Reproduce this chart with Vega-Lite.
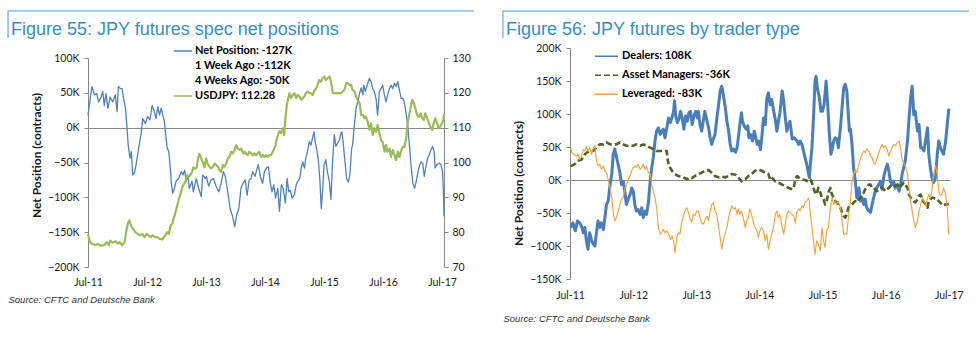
{
  "$schema": "https://vega.github.io/schema/vega-lite/v6.json",
  "autosize": {"type": "pad"},
  "padding": {"left": 7, "top": 10, "right": 5, "bottom": 5},
  "background": "white",
  "spacing": 27,
  "resolve": {"scale": {"color": "independent", "strokeDash": "independent"}, "legend": {"color": "independent", "strokeDash": "independent"}},
  "config": {
    "view": {"stroke": null},
    "font": "Lato",
    "axis": {"labelFont": "Lato", "labelFontSize": 10.5, "labelColor": "#1a1a1a", "titleFont": "Lato", "titleColor": "#1a1a1a", "domainColor": "#868686", "tickColor": "#868686", "grid": false, "labelOverlap": false},
    "title": {"font": "Liberation Sans", "fontSize": 18, "fontWeight": "normal", "color": "#3a8ec3", "anchor": "start", "frame": "group", "baseline": "alphabetic"},
    "line": {"strokeJoin": "round", "strokeCap": "butt"},
    "rule": {"color": "#4a9ad0", "strokeWidth": 1}
  },
  "datasets": {
    "jpy": [
      {"date":"2011-07-01","series":"Net Position","value":18},{"date":"2011-07-25","series":"Net Position","value":59},{"date":"2011-08-10","series":"Net Position","value":47},{"date":"2011-08-24","series":"Net Position","value":49},{"date":"2011-09-05","series":"Net Position","value":37},{"date":"2011-09-20","series":"Net Position","value":44},{"date":"2011-09-30","series":"Net Position","value":52},{"date":"2011-10-10","series":"Net Position","value":32},{"date":"2011-10-20","series":"Net Position","value":49},{"date":"2011-11-01","series":"Net Position","value":28},{"date":"2011-11-15","series":"Net Position","value":44},{"date":"2011-12-01","series":"Net Position","value":37},{"date":"2011-12-17","series":"Net Position","value":47},{"date":"2011-12-28","series":"Net Position","value":23},{"date":"2012-01-05","series":"Net Position","value":59},{"date":"2012-01-18","series":"Net Position","value":56},{"date":"2012-01-28","series":"Net Position","value":56},{"date":"2012-02-06","series":"Net Position","value":42},{"date":"2012-02-18","series":"Net Position","value":28},{"date":"2012-02-26","series":"Net Position","value":4},{"date":"2012-03-06","series":"Net Position","value":-25},{"date":"2012-03-17","series":"Net Position","value":-44},{"date":"2012-03-25","series":"Net Position","value":-34},{"date":"2012-04-03","series":"Net Position","value":-68},{"date":"2012-04-13","series":"Net Position","value":-65},{"date":"2012-04-23","series":"Net Position","value":-54},{"date":"2012-05-10","series":"Net Position","value":-29},{"date":"2012-05-24","series":"Net Position","value":-10},{"date":"2012-06-04","series":"Net Position","value":13},{"date":"2012-06-20","series":"Net Position","value":6},{"date":"2012-07-04","series":"Net Position","value":16},{"date":"2012-07-18","series":"Net Position","value":11},{"date":"2012-08-01","series":"Net Position","value":32},{"date":"2012-08-15","series":"Net Position","value":23},{"date":"2012-08-25","series":"Net Position","value":13},{"date":"2012-09-05","series":"Net Position","value":30},{"date":"2012-09-16","series":"Net Position","value":18},{"date":"2012-09-26","series":"Net Position","value":28},{"date":"2012-10-06","series":"Net Position","value":18},{"date":"2012-10-16","series":"Net Position","value":9},{"date":"2012-10-22","series":"Net Position","value":-6},{"date":"2012-11-02","series":"Net Position","value":-29},{"date":"2012-11-12","series":"Net Position","value":-34},{"date":"2012-11-20","series":"Net Position","value":-54},{"date":"2012-11-29","series":"Net Position","value":-82},{"date":"2012-12-07","series":"Net Position","value":-94},{"date":"2012-12-17","series":"Net Position","value":-87},{"date":"2012-12-27","series":"Net Position","value":-77},{"date":"2013-01-13","series":"Net Position","value":-73},{"date":"2013-01-28","series":"Net Position","value":-63},{"date":"2013-02-08","series":"Net Position","value":-68},{"date":"2013-02-18","series":"Net Position","value":-61},{"date":"2013-02-28","series":"Net Position","value":-77},{"date":"2013-03-09","series":"Net Position","value":-68},{"date":"2013-03-19","series":"Net Position","value":-87},{"date":"2013-04-05","series":"Net Position","value":-77},{"date":"2013-04-13","series":"Net Position","value":-92},{"date":"2013-05-01","series":"Net Position","value":-73},{"date":"2013-05-16","series":"Net Position","value":-87},{"date":"2013-06-01","series":"Net Position","value":-99},{"date":"2013-06-10","series":"Net Position","value":-68},{"date":"2013-06-27","series":"Net Position","value":-73},{"date":"2013-07-03","series":"Net Position","value":-70},{"date":"2013-07-17","series":"Net Position","value":-84},{"date":"2013-08-01","series":"Net Position","value":-75},{"date":"2013-08-16","series":"Net Position","value":-73},{"date":"2013-09-01","series":"Net Position","value":-84},{"date":"2013-09-18","series":"Net Position","value":-92},{"date":"2013-10-02","series":"Net Position","value":-80},{"date":"2013-10-16","series":"Net Position","value":-63},{"date":"2013-10-28","series":"Net Position","value":-70},{"date":"2013-11-12","series":"Net Position","value":-92},{"date":"2013-11-27","series":"Net Position","value":-116},{"date":"2013-12-13","series":"Net Position","value":-128},{"date":"2013-12-25","series":"Net Position","value":-142},{"date":"2014-01-07","series":"Net Position","value":-125},{"date":"2014-01-20","series":"Net Position","value":-116},{"date":"2014-02-02","series":"Net Position","value":-87},{"date":"2014-02-14","series":"Net Position","value":-80},{"date":"2014-02-28","series":"Net Position","value":-75},{"date":"2014-03-12","series":"Net Position","value":-97},{"date":"2014-03-25","series":"Net Position","value":-75},{"date":"2014-04-06","series":"Net Position","value":-73},{"date":"2014-04-15","series":"Net Position","value":-63},{"date":"2014-04-30","series":"Net Position","value":-70},{"date":"2014-05-10","series":"Net Position","value":-61},{"date":"2014-05-20","series":"Net Position","value":-53},{"date":"2014-06-02","series":"Net Position","value":-70},{"date":"2014-06-16","series":"Net Position","value":-80},{"date":"2014-06-27","series":"Net Position","value":-63},{"date":"2014-07-10","series":"Net Position","value":-58},{"date":"2014-07-22","series":"Net Position","value":-56},{"date":"2014-08-03","series":"Net Position","value":-80},{"date":"2014-08-13","series":"Net Position","value":-92},{"date":"2014-08-24","series":"Net Position","value":-82},{"date":"2014-09-04","series":"Net Position","value":-101},{"date":"2014-09-18","series":"Net Position","value":-87},{"date":"2014-09-28","series":"Net Position","value":-120},{"date":"2014-10-10","series":"Net Position","value":-82},{"date":"2014-10-21","series":"Net Position","value":-87},{"date":"2014-11-04","series":"Net Position","value":-108},{"date":"2014-11-15","series":"Net Position","value":-73},{"date":"2014-11-25","series":"Net Position","value":-92},{"date":"2014-12-05","series":"Net Position","value":-90},{"date":"2014-12-15","series":"Net Position","value":-101},{"date":"2014-12-30","series":"Net Position","value":-96},{"date":"2015-01-10","series":"Net Position","value":-82},{"date":"2015-01-20","series":"Net Position","value":-77},{"date":"2015-02-01","series":"Net Position","value":-73},{"date":"2015-02-10","series":"Net Position","value":-58},{"date":"2015-02-20","series":"Net Position","value":-49},{"date":"2015-03-02","series":"Net Position","value":-58},{"date":"2015-03-10","series":"Net Position","value":-44},{"date":"2015-03-21","series":"Net Position","value":-34},{"date":"2015-04-01","series":"Net Position","value":-20},{"date":"2015-04-11","series":"Net Position","value":-25},{"date":"2015-04-21","series":"Net Position","value":-15},{"date":"2015-04-30","series":"Net Position","value":-6},{"date":"2015-05-07","series":"Net Position","value":-20},{"date":"2015-05-18","series":"Net Position","value":-32},{"date":"2015-05-28","series":"Net Position","value":-49},{"date":"2015-06-06","series":"Net Position","value":-77},{"date":"2015-06-14","series":"Net Position","value":-116},{"date":"2015-06-22","series":"Net Position","value":-92},{"date":"2015-07-02","series":"Net Position","value":-53},{"date":"2015-07-12","series":"Net Position","value":-46},{"date":"2015-07-22","series":"Net Position","value":-63},{"date":"2015-08-03","series":"Net Position","value":-77},{"date":"2015-08-13","series":"Net Position","value":-103},{"date":"2015-08-23","series":"Net Position","value":-49},{"date":"2015-09-03","series":"Net Position","value":-10},{"date":"2015-09-13","series":"Net Position","value":-27},{"date":"2015-09-24","series":"Net Position","value":-22},{"date":"2015-10-04","series":"Net Position","value":-18},{"date":"2015-10-14","series":"Net Position","value":-8},{"date":"2015-10-20","series":"Net Position","value":-6},{"date":"2015-10-28","series":"Net Position","value":-22},{"date":"2015-11-08","series":"Net Position","value":-49},{"date":"2015-11-18","series":"Net Position","value":-73},{"date":"2015-11-28","series":"Net Position","value":-78},{"date":"2015-12-08","series":"Net Position","value":-68},{"date":"2015-12-19","series":"Net Position","value":-30},{"date":"2015-12-25","series":"Net Position","value":-25},{"date":"2016-01-05","series":"Net Position","value":4},{"date":"2016-01-16","series":"Net Position","value":28},{"date":"2016-01-26","series":"Net Position","value":37},{"date":"2016-02-06","series":"Net Position","value":49},{"date":"2016-02-16","series":"Net Position","value":57},{"date":"2016-02-27","series":"Net Position","value":47},{"date":"2016-03-03","series":"Net Position","value":61},{"date":"2016-03-13","series":"Net Position","value":52},{"date":"2016-03-28","series":"Net Position","value":64},{"date":"2016-04-07","series":"Net Position","value":71},{"date":"2016-04-17","series":"Net Position","value":66},{"date":"2016-04-28","series":"Net Position","value":56},{"date":"2016-05-07","series":"Net Position","value":52},{"date":"2016-05-18","series":"Net Position","value":42},{"date":"2016-05-28","series":"Net Position","value":18},{"date":"2016-06-08","series":"Net Position","value":52},{"date":"2016-06-18","series":"Net Position","value":56},{"date":"2016-06-28","series":"Net Position","value":61},{"date":"2016-07-09","series":"Net Position","value":47},{"date":"2016-07-19","series":"Net Position","value":37},{"date":"2016-07-29","series":"Net Position","value":47},{"date":"2016-08-09","series":"Net Position","value":56},{"date":"2016-08-19","series":"Net Position","value":61},{"date":"2016-08-30","series":"Net Position","value":56},{"date":"2016-09-09","series":"Net Position","value":64},{"date":"2016-09-19","series":"Net Position","value":59},{"date":"2016-09-30","series":"Net Position","value":66},{"date":"2016-10-10","series":"Net Position","value":54},{"date":"2016-10-21","series":"Net Position","value":42},{"date":"2016-11-01","series":"Net Position","value":42},{"date":"2016-11-10","series":"Net Position","value":35},{"date":"2016-11-21","series":"Net Position","value":20},{"date":"2016-12-01","series":"Net Position","value":1},{"date":"2016-12-11","series":"Net Position","value":-25},{"date":"2016-12-21","series":"Net Position","value":-54},{"date":"2017-01-01","series":"Net Position","value":-80},{"date":"2017-01-12","series":"Net Position","value":-87},{"date":"2017-01-22","series":"Net Position","value":-77},{"date":"2017-02-02","series":"Net Position","value":-63},{"date":"2017-02-12","series":"Net Position","value":-54},{"date":"2017-02-22","series":"Net Position","value":-49},{"date":"2017-03-03","series":"Net Position","value":-51},{"date":"2017-03-13","series":"Net Position","value":-70},{"date":"2017-03-23","series":"Net Position","value":-56},{"date":"2017-04-03","series":"Net Position","value":-44},{"date":"2017-04-13","series":"Net Position","value":-39},{"date":"2017-04-23","series":"Net Position","value":-32},{"date":"2017-05-03","series":"Net Position","value":-27},{"date":"2017-05-13","series":"Net Position","value":-34},{"date":"2017-05-19","series":"Net Position","value":-58},{"date":"2017-05-30","series":"Net Position","value":-53},{"date":"2017-06-14","series":"Net Position","value":-51},{"date":"2017-06-24","series":"Net Position","value":-53},{"date":"2017-07-04","series":"Net Position","value":-63},{"date":"2017-07-10","series":"Net Position","value":-97},{"date":"2017-07-13","series":"Net Position","value":-127},
      {"date":"2011-07-01","series":"USDJPY","value":79.5},{"date":"2011-07-13","series":"USDJPY","value":77.1},{"date":"2011-07-29","series":"USDJPY","value":76.6},{"date":"2011-08-16","series":"USDJPY","value":76.3},{"date":"2011-08-30","series":"USDJPY","value":76.6},{"date":"2011-09-20","series":"USDJPY","value":76.1},{"date":"2011-10-10","series":"USDJPY","value":76.3},{"date":"2011-10-25","series":"USDJPY","value":77.1},{"date":"2011-11-07","series":"USDJPY","value":76.3},{"date":"2011-11-15","series":"USDJPY","value":77.6},{"date":"2011-12-01","series":"USDJPY","value":77.0},{"date":"2011-12-18","series":"USDJPY","value":77.4},{"date":"2012-01-02","series":"USDJPY","value":76.7},{"date":"2012-01-12","series":"USDJPY","value":77.2},{"date":"2012-01-28","series":"USDJPY","value":76.2},{"date":"2012-02-13","series":"USDJPY","value":77.2},{"date":"2012-02-22","series":"USDJPY","value":80.0},{"date":"2012-03-03","series":"USDJPY","value":82.4},{"date":"2012-03-13","series":"USDJPY","value":83.4},{"date":"2012-03-23","series":"USDJPY","value":81.9},{"date":"2012-04-03","series":"USDJPY","value":81.0},{"date":"2012-04-19","series":"USDJPY","value":80.0},{"date":"2012-05-04","series":"USDJPY","value":79.5},{"date":"2012-05-19","series":"USDJPY","value":79.1},{"date":"2012-06-01","series":"USDJPY","value":79.5},{"date":"2012-06-15","series":"USDJPY","value":78.6},{"date":"2012-06-28","series":"USDJPY","value":79.5},{"date":"2012-07-10","series":"USDJPY","value":79.1},{"date":"2012-07-25","series":"USDJPY","value":78.6},{"date":"2012-08-05","series":"USDJPY","value":79.1},{"date":"2012-08-19","series":"USDJPY","value":78.6},{"date":"2012-09-01","series":"USDJPY","value":78.6},{"date":"2012-09-16","series":"USDJPY","value":78.1},{"date":"2012-10-02","series":"USDJPY","value":77.9},{"date":"2012-10-13","series":"USDJPY","value":78.6},{"date":"2012-10-22","series":"USDJPY","value":79.1},{"date":"2012-11-03","series":"USDJPY","value":80.0},{"date":"2012-11-13","series":"USDJPY","value":79.5},{"date":"2012-11-23","series":"USDJPY","value":81.9},{"date":"2012-12-04","series":"USDJPY","value":82.4},{"date":"2012-12-12","series":"USDJPY","value":83.8},{"date":"2012-12-24","series":"USDJPY","value":85.8},{"date":"2013-01-04","series":"USDJPY","value":87.7},{"date":"2013-01-14","series":"USDJPY","value":89.6},{"date":"2013-01-24","series":"USDJPY","value":91.0},{"date":"2013-02-04","series":"USDJPY","value":92.9},{"date":"2013-02-15","series":"USDJPY","value":93.9},{"date":"2013-02-25","series":"USDJPY","value":94.8},{"date":"2013-03-03","series":"USDJPY","value":96.3},{"date":"2013-03-13","series":"USDJPY","value":95.8},{"date":"2013-03-24","series":"USDJPY","value":96.3},{"date":"2013-04-05","series":"USDJPY","value":97.2},{"date":"2013-04-13","series":"USDJPY","value":98.6},{"date":"2013-04-24","series":"USDJPY","value":98.2},{"date":"2013-05-04","series":"USDJPY","value":98.6},{"date":"2013-05-12","series":"USDJPY","value":101.0},{"date":"2013-05-20","series":"USDJPY","value":102.5},{"date":"2013-05-30","series":"USDJPY","value":101.5},{"date":"2013-06-10","series":"USDJPY","value":100.1},{"date":"2013-06-21","series":"USDJPY","value":98.6},{"date":"2013-07-01","series":"USDJPY","value":101.2},{"date":"2013-07-10","series":"USDJPY","value":99.7},{"date":"2013-07-22","series":"USDJPY","value":98.8},{"date":"2013-08-01","series":"USDJPY","value":98.3},{"date":"2013-08-13","series":"USDJPY","value":98.8},{"date":"2013-08-22","series":"USDJPY","value":99.7},{"date":"2013-09-01","series":"USDJPY","value":99.3},{"date":"2013-09-13","series":"USDJPY","value":98.8},{"date":"2013-09-22","series":"USDJPY","value":97.8},{"date":"2013-10-02","series":"USDJPY","value":97.3},{"date":"2013-10-13","series":"USDJPY","value":99.3},{"date":"2013-10-22","series":"USDJPY","value":98.8},{"date":"2013-11-03","series":"USDJPY","value":99.7},{"date":"2013-11-13","series":"USDJPY","value":101.2},{"date":"2013-11-23","series":"USDJPY","value":101.6},{"date":"2013-12-04","series":"USDJPY","value":103.1},{"date":"2013-12-13","series":"USDJPY","value":102.6},{"date":"2013-12-25","series":"USDJPY","value":103.6},{"date":"2014-01-04","series":"USDJPY","value":105.0},{"date":"2014-01-13","series":"USDJPY","value":104.0},{"date":"2014-01-25","series":"USDJPY","value":103.6},{"date":"2014-02-04","series":"USDJPY","value":104.0},{"date":"2014-02-16","series":"USDJPY","value":102.6},{"date":"2014-02-25","series":"USDJPY","value":103.1},{"date":"2014-03-04","series":"USDJPY","value":102.6},{"date":"2014-03-16","series":"USDJPY","value":102.1},{"date":"2014-03-25","series":"USDJPY","value":103.1},{"date":"2014-04-05","series":"USDJPY","value":102.6},{"date":"2014-04-16","series":"USDJPY","value":102.1},{"date":"2014-04-25","series":"USDJPY","value":102.6},{"date":"2014-05-07","series":"USDJPY","value":102.1},{"date":"2014-05-16","series":"USDJPY","value":102.6},{"date":"2014-05-26","series":"USDJPY","value":103.1},{"date":"2014-06-07","series":"USDJPY","value":101.6},{"date":"2014-06-16","series":"USDJPY","value":102.1},{"date":"2014-06-28","series":"USDJPY","value":101.6},{"date":"2014-07-07","series":"USDJPY","value":102.1},{"date":"2014-07-16","series":"USDJPY","value":101.6},{"date":"2014-07-28","series":"USDJPY","value":102.1},{"date":"2014-08-07","series":"USDJPY","value":102.1},{"date":"2014-08-18","series":"USDJPY","value":103.1},{"date":"2014-08-28","series":"USDJPY","value":104.0},{"date":"2014-09-04","series":"USDJPY","value":105.0},{"date":"2014-09-13","series":"USDJPY","value":106.9},{"date":"2014-09-19","series":"USDJPY","value":107.9},{"date":"2014-09-28","series":"USDJPY","value":109.0},{"date":"2014-10-08","series":"USDJPY","value":108.4},{"date":"2014-10-19","series":"USDJPY","value":109.8},{"date":"2014-10-28","series":"USDJPY","value":107.9},{"date":"2014-11-04","series":"USDJPY","value":112.7},{"date":"2014-11-13","series":"USDJPY","value":116.6},{"date":"2014-11-22","series":"USDJPY","value":118.5},{"date":"2014-11-29","series":"USDJPY","value":119.9},{"date":"2014-12-10","series":"USDJPY","value":118.5},{"date":"2014-12-19","series":"USDJPY","value":119.4},{"date":"2014-12-30","series":"USDJPY","value":119.9},{"date":"2015-01-10","series":"USDJPY","value":118.5},{"date":"2015-01-19","series":"USDJPY","value":119.4},{"date":"2015-01-30","series":"USDJPY","value":119.0},{"date":"2015-02-10","series":"USDJPY","value":118.0},{"date":"2015-02-21","series":"USDJPY","value":118.5},{"date":"2015-03-01","series":"USDJPY","value":119.0},{"date":"2015-03-11","series":"USDJPY","value":119.9},{"date":"2015-03-22","series":"USDJPY","value":120.4},{"date":"2015-04-01","series":"USDJPY","value":119.9},{"date":"2015-04-12","series":"USDJPY","value":119.9},{"date":"2015-04-22","series":"USDJPY","value":119.4},{"date":"2015-05-01","series":"USDJPY","value":120.4},{"date":"2015-05-13","series":"USDJPY","value":121.3},{"date":"2015-05-22","series":"USDJPY","value":122.3},{"date":"2015-06-02","series":"USDJPY","value":123.7},{"date":"2015-06-13","series":"USDJPY","value":123.2},{"date":"2015-06-22","series":"USDJPY","value":124.2},{"date":"2015-07-03","series":"USDJPY","value":124.7},{"date":"2015-07-13","series":"USDJPY","value":123.7},{"date":"2015-07-23","series":"USDJPY","value":124.2},{"date":"2015-08-04","series":"USDJPY","value":124.7},{"date":"2015-08-13","series":"USDJPY","value":123.2},{"date":"2015-08-25","series":"USDJPY","value":119.9},{"date":"2015-09-04","series":"USDJPY","value":119.9},{"date":"2015-09-13","series":"USDJPY","value":119.9},{"date":"2015-09-25","series":"USDJPY","value":119.9},{"date":"2015-10-04","series":"USDJPY","value":119.9},{"date":"2015-10-14","series":"USDJPY","value":119.9},{"date":"2015-10-25","series":"USDJPY","value":120.4},{"date":"2015-11-04","series":"USDJPY","value":120.8},{"date":"2015-11-16","series":"USDJPY","value":122.8},{"date":"2015-11-25","series":"USDJPY","value":122.8},{"date":"2015-12-04","series":"USDJPY","value":122.3},{"date":"2015-12-16","series":"USDJPY","value":122.3},{"date":"2015-12-25","series":"USDJPY","value":120.8},{"date":"2016-01-07","series":"USDJPY","value":120.4},{"date":"2016-01-16","series":"USDJPY","value":118.9},{"date":"2016-01-25","series":"USDJPY","value":118.0},{"date":"2016-02-07","series":"USDJPY","value":117.0},{"date":"2016-02-16","series":"USDJPY","value":113.6},{"date":"2016-02-28","series":"USDJPY","value":113.6},{"date":"2016-03-07","series":"USDJPY","value":112.7},{"date":"2016-03-16","series":"USDJPY","value":113.2},{"date":"2016-03-28","series":"USDJPY","value":111.7},{"date":"2016-04-07","series":"USDJPY","value":109.4},{"date":"2016-04-17","series":"USDJPY","value":111.2},{"date":"2016-04-28","series":"USDJPY","value":107.9},{"date":"2016-05-07","series":"USDJPY","value":109.8},{"date":"2016-05-19","series":"USDJPY","value":108.8},{"date":"2016-05-28","series":"USDJPY","value":110.8},{"date":"2016-06-08","series":"USDJPY","value":108.4},{"date":"2016-06-19","series":"USDJPY","value":106.4},{"date":"2016-06-28","series":"USDJPY","value":105.9},{"date":"2016-07-10","series":"USDJPY","value":103.1},{"date":"2016-07-19","series":"USDJPY","value":105.0},{"date":"2016-07-28","series":"USDJPY","value":103.1},{"date":"2016-08-10","series":"USDJPY","value":104.0},{"date":"2016-08-19","series":"USDJPY","value":101.6},{"date":"2016-08-30","series":"USDJPY","value":103.6},{"date":"2016-09-10","series":"USDJPY","value":102.1},{"date":"2016-09-19","series":"USDJPY","value":100.7},{"date":"2016-10-01","series":"USDJPY","value":103.1},{"date":"2016-10-10","series":"USDJPY","value":101.6},{"date":"2016-10-22","series":"USDJPY","value":103.6},{"date":"2016-11-01","series":"USDJPY","value":104.5},{"date":"2016-11-10","series":"USDJPY","value":104.5},{"date":"2016-11-22","series":"USDJPY","value":107.4},{"date":"2016-12-01","series":"USDJPY","value":111.7},{"date":"2016-12-11","series":"USDJPY","value":114.1},{"date":"2016-12-22","series":"USDJPY","value":116.5},{"date":"2016-12-28","series":"USDJPY","value":118.0},{"date":"2017-01-07","series":"USDJPY","value":117.0},{"date":"2017-01-19","series":"USDJPY","value":115.1},{"date":"2017-01-28","series":"USDJPY","value":113.6},{"date":"2017-02-08","series":"USDJPY","value":113.1},{"date":"2017-02-19","series":"USDJPY","value":114.1},{"date":"2017-02-28","series":"USDJPY","value":112.7},{"date":"2017-03-10","series":"USDJPY","value":112.2},{"date":"2017-03-19","series":"USDJPY","value":114.1},{"date":"2017-03-28","series":"USDJPY","value":113.2},{"date":"2017-04-10","series":"USDJPY","value":111.3},{"date":"2017-04-19","series":"USDJPY","value":110.3},{"date":"2017-05-01","series":"USDJPY","value":109.4},{"date":"2017-05-10","series":"USDJPY","value":111.3},{"date":"2017-05-19","series":"USDJPY","value":112.7},{"date":"2017-06-01","series":"USDJPY","value":111.3},{"date":"2017-06-10","series":"USDJPY","value":109.8},{"date":"2017-06-20","series":"USDJPY","value":110.3},{"date":"2017-07-01","series":"USDJPY","value":111.3},{"date":"2017-07-10","series":"USDJPY","value":112.3},{"date":"2017-07-13","series":"USDJPY","value":114.0}
    ],
    "traders": [
      {"date":"2011-07-05","series":"Dealers","value":-72},{"date":"2011-07-18","series":"Dealers","value":-65},{"date":"2011-08-01","series":"Dealers","value":-77},{"date":"2011-08-13","series":"Dealers","value":-62},{"date":"2011-08-26","series":"Dealers","value":-65},{"date":"2011-09-06","series":"Dealers","value":-70},{"date":"2011-09-16","series":"Dealers","value":-80},{"date":"2011-09-25","series":"Dealers","value":-72},{"date":"2011-10-04","series":"Dealers","value":-92},{"date":"2011-10-13","series":"Dealers","value":-105},{"date":"2011-10-23","series":"Dealers","value":-80},{"date":"2011-11-03","series":"Dealers","value":-92},{"date":"2011-11-13","series":"Dealers","value":-97},{"date":"2011-11-22","series":"Dealers","value":-100},{"date":"2011-12-01","series":"Dealers","value":-80},{"date":"2011-12-10","series":"Dealers","value":-62},{"date":"2011-12-20","series":"Dealers","value":-72},{"date":"2011-12-30","series":"Dealers","value":-65},{"date":"2012-01-10","series":"Dealers","value":-75},{"date":"2012-01-19","series":"Dealers","value":-57},{"date":"2012-01-28","series":"Dealers","value":-37},{"date":"2012-02-07","series":"Dealers","value":-32},{"date":"2012-02-18","series":"Dealers","value":-7},{"date":"2012-02-28","series":"Dealers","value":9},{"date":"2012-03-07","series":"Dealers","value":39},{"date":"2012-03-16","series":"Dealers","value":47},{"date":"2012-03-25","series":"Dealers","value":36},{"date":"2012-04-04","series":"Dealers","value":24},{"date":"2012-04-15","series":"Dealers","value":11},{"date":"2012-04-24","series":"Dealers","value":-7},{"date":"2012-05-04","series":"Dealers","value":-2},{"date":"2012-05-13","series":"Dealers","value":-17},{"date":"2012-05-22","series":"Dealers","value":-37},{"date":"2012-06-02","series":"Dealers","value":-29},{"date":"2012-06-13","series":"Dealers","value":-22},{"date":"2012-06-22","series":"Dealers","value":-12},{"date":"2012-07-01","series":"Dealers","value":-17},{"date":"2012-07-10","series":"Dealers","value":-37},{"date":"2012-07-19","series":"Dealers","value":-47},{"date":"2012-07-29","series":"Dealers","value":-45},{"date":"2012-08-10","series":"Dealers","value":-52},{"date":"2012-08-19","series":"Dealers","value":-42},{"date":"2012-08-28","series":"Dealers","value":-57},{"date":"2012-09-07","series":"Dealers","value":-47},{"date":"2012-09-16","series":"Dealers","value":-52},{"date":"2012-09-27","series":"Dealers","value":-34},{"date":"2012-10-02","series":"Dealers","value":-17},{"date":"2012-10-07","series":"Dealers","value":-2},{"date":"2012-10-16","series":"Dealers","value":19},{"date":"2012-10-25","series":"Dealers","value":34},{"date":"2012-11-04","series":"Dealers","value":59},{"date":"2012-11-13","series":"Dealers","value":74},{"date":"2012-11-24","series":"Dealers","value":79},{"date":"2012-12-04","series":"Dealers","value":69},{"date":"2012-12-13","series":"Dealers","value":74},{"date":"2012-12-22","series":"Dealers","value":77},{"date":"2013-01-01","series":"Dealers","value":64},{"date":"2013-01-11","series":"Dealers","value":79},{"date":"2013-01-22","series":"Dealers","value":94},{"date":"2013-02-01","series":"Dealers","value":87},{"date":"2013-02-10","series":"Dealers","value":94},{"date":"2013-02-19","series":"Dealers","value":104},{"date":"2013-02-25","series":"Dealers","value":120},{"date":"2013-03-04","series":"Dealers","value":97},{"date":"2013-03-13","series":"Dealers","value":87},{"date":"2013-03-22","series":"Dealers","value":92},{"date":"2013-04-01","series":"Dealers","value":104},{"date":"2013-04-10","series":"Dealers","value":94},{"date":"2013-04-20","series":"Dealers","value":77},{"date":"2013-05-01","series":"Dealers","value":97},{"date":"2013-05-10","series":"Dealers","value":89},{"date":"2013-05-19","series":"Dealers","value":102},{"date":"2013-05-28","series":"Dealers","value":104},{"date":"2013-06-07","series":"Dealers","value":84},{"date":"2013-06-19","series":"Dealers","value":99},{"date":"2013-06-28","series":"Dealers","value":104},{"date":"2013-07-07","series":"Dealers","value":94},{"date":"2013-07-13","series":"Dealers","value":104},{"date":"2013-07-22","series":"Dealers","value":84},{"date":"2013-08-01","series":"Dealers","value":74},{"date":"2013-08-10","series":"Dealers","value":89},{"date":"2013-08-19","series":"Dealers","value":104},{"date":"2013-09-01","series":"Dealers","value":89},{"date":"2013-09-10","series":"Dealers","value":79},{"date":"2013-09-19","series":"Dealers","value":64},{"date":"2013-09-28","series":"Dealers","value":54},{"date":"2013-10-07","series":"Dealers","value":62},{"date":"2013-10-17","series":"Dealers","value":69},{"date":"2013-10-28","series":"Dealers","value":94},{"date":"2013-11-07","series":"Dealers","value":114},{"date":"2013-11-16","series":"Dealers","value":135},{"date":"2013-11-25","series":"Dealers","value":142},{"date":"2013-12-04","series":"Dealers","value":130},{"date":"2013-12-16","series":"Dealers","value":109},{"date":"2013-12-25","series":"Dealers","value":89},{"date":"2014-01-04","series":"Dealers","value":74},{"date":"2014-01-13","series":"Dealers","value":54},{"date":"2014-01-22","series":"Dealers","value":44},{"date":"2014-02-02","series":"Dealers","value":47},{"date":"2014-02-13","series":"Dealers","value":42},{"date":"2014-02-22","series":"Dealers","value":49},{"date":"2014-03-01","series":"Dealers","value":64},{"date":"2014-03-10","series":"Dealers","value":84},{"date":"2014-03-19","series":"Dealers","value":102},{"date":"2014-03-25","series":"Dealers","value":89},{"date":"2014-04-04","series":"Dealers","value":82},{"date":"2014-04-16","series":"Dealers","value":77},{"date":"2014-04-25","series":"Dealers","value":82},{"date":"2014-05-01","series":"Dealers","value":64},{"date":"2014-05-10","series":"Dealers","value":69},{"date":"2014-05-22","series":"Dealers","value":59},{"date":"2014-06-01","series":"Dealers","value":74},{"date":"2014-06-10","series":"Dealers","value":64},{"date":"2014-06-19","series":"Dealers","value":54},{"date":"2014-06-28","series":"Dealers","value":59},{"date":"2014-07-07","series":"Dealers","value":46},{"date":"2014-07-13","series":"Dealers","value":59},{"date":"2014-07-25","series":"Dealers","value":94},{"date":"2014-08-04","series":"Dealers","value":84},{"date":"2014-08-13","series":"Dealers","value":124},{"date":"2014-08-22","series":"Dealers","value":132},{"date":"2014-09-01","series":"Dealers","value":114},{"date":"2014-09-10","series":"Dealers","value":122},{"date":"2014-09-22","series":"Dealers","value":104},{"date":"2014-10-01","series":"Dealers","value":92},{"date":"2014-10-10","series":"Dealers","value":74},{"date":"2014-10-19","series":"Dealers","value":89},{"date":"2014-10-28","series":"Dealers","value":102},{"date":"2014-11-10","series":"Dealers","value":135},{"date":"2014-11-19","series":"Dealers","value":119},{"date":"2014-11-28","series":"Dealers","value":94},{"date":"2014-12-07","series":"Dealers","value":74},{"date":"2014-12-16","series":"Dealers","value":84},{"date":"2014-12-25","series":"Dealers","value":89},{"date":"2015-01-07","series":"Dealers","value":62},{"date":"2015-01-16","series":"Dealers","value":64},{"date":"2015-01-25","series":"Dealers","value":62},{"date":"2015-02-04","series":"Dealers","value":59},{"date":"2015-02-13","series":"Dealers","value":54},{"date":"2015-02-22","series":"Dealers","value":59},{"date":"2015-03-04","series":"Dealers","value":54},{"date":"2015-03-13","series":"Dealers","value":44},{"date":"2015-03-22","series":"Dealers","value":34},{"date":"2015-04-01","series":"Dealers","value":24},{"date":"2015-04-10","series":"Dealers","value":11},{"date":"2015-04-16","series":"Dealers","value":4},{"date":"2015-04-22","series":"Dealers","value":24},{"date":"2015-05-01","series":"Dealers","value":49},{"date":"2015-05-10","series":"Dealers","value":94},{"date":"2015-05-19","series":"Dealers","value":150},{"date":"2015-05-25","series":"Dealers","value":157},{"date":"2015-06-01","series":"Dealers","value":140},{"date":"2015-06-13","series":"Dealers","value":125},{"date":"2015-06-22","series":"Dealers","value":104},{"date":"2015-07-01","series":"Dealers","value":104},{"date":"2015-07-10","series":"Dealers","value":114},{"date":"2015-07-22","series":"Dealers","value":150},{"date":"2015-08-01","series":"Dealers","value":111},{"date":"2015-08-10","series":"Dealers","value":69},{"date":"2015-08-19","series":"Dealers","value":39},{"date":"2015-08-28","series":"Dealers","value":49},{"date":"2015-09-04","series":"Dealers","value":59},{"date":"2015-09-13","series":"Dealers","value":64},{"date":"2015-09-22","series":"Dealers","value":62},{"date":"2015-10-01","series":"Dealers","value":49},{"date":"2015-10-13","series":"Dealers","value":79},{"date":"2015-10-22","series":"Dealers","value":109},{"date":"2015-11-01","series":"Dealers","value":140},{"date":"2015-11-10","series":"Dealers","value":145},{"date":"2015-11-19","series":"Dealers","value":135},{"date":"2015-11-25","series":"Dealers","value":109},{"date":"2015-12-04","series":"Dealers","value":74},{"date":"2015-12-10","series":"Dealers","value":77},{"date":"2015-12-19","series":"Dealers","value":54},{"date":"2015-12-28","series":"Dealers","value":19},{"date":"2016-01-07","series":"Dealers","value":-2},{"date":"2016-01-16","series":"Dealers","value":-27},{"date":"2016-01-28","series":"Dealers","value":-12},{"date":"2016-02-07","series":"Dealers","value":-32},{"date":"2016-02-16","series":"Dealers","value":-27},{"date":"2016-02-25","series":"Dealers","value":-37},{"date":"2016-03-04","series":"Dealers","value":-29},{"date":"2016-03-13","series":"Dealers","value":-42},{"date":"2016-03-25","series":"Dealers","value":-47},{"date":"2016-04-04","series":"Dealers","value":-49},{"date":"2016-04-13","series":"Dealers","value":-37},{"date":"2016-04-22","series":"Dealers","value":-27},{"date":"2016-05-01","series":"Dealers","value":-17},{"date":"2016-05-10","series":"Dealers","value":-12},{"date":"2016-05-22","series":"Dealers","value":-7},{"date":"2016-06-01","series":"Dealers","value":-2},{"date":"2016-06-10","series":"Dealers","value":-14},{"date":"2016-06-19","series":"Dealers","value":4},{"date":"2016-06-28","series":"Dealers","value":14},{"date":"2016-07-10","series":"Dealers","value":24},{"date":"2016-07-19","series":"Dealers","value":14},{"date":"2016-07-28","series":"Dealers","value":-2},{"date":"2016-08-07","series":"Dealers","value":-7},{"date":"2016-08-16","series":"Dealers","value":-2},{"date":"2016-08-25","series":"Dealers","value":-12},{"date":"2016-09-07","series":"Dealers","value":-7},{"date":"2016-09-16","series":"Dealers","value":-17},{"date":"2016-09-25","series":"Dealers","value":-7},{"date":"2016-10-04","series":"Dealers","value":9},{"date":"2016-10-13","series":"Dealers","value":19},{"date":"2016-10-22","series":"Dealers","value":29},{"date":"2016-11-04","series":"Dealers","value":59},{"date":"2016-11-13","series":"Dealers","value":94},{"date":"2016-11-22","series":"Dealers","value":124},{"date":"2016-12-01","series":"Dealers","value":142},{"date":"2016-12-10","series":"Dealers","value":99},{"date":"2016-12-19","series":"Dealers","value":104},{"date":"2017-01-01","series":"Dealers","value":74},{"date":"2017-01-10","series":"Dealers","value":84},{"date":"2017-01-19","series":"Dealers","value":49},{"date":"2017-01-28","series":"Dealers","value":49},{"date":"2017-02-07","series":"Dealers","value":44},{"date":"2017-02-19","series":"Dealers","value":64},{"date":"2017-02-28","series":"Dealers","value":79},{"date":"2017-03-07","series":"Dealers","value":39},{"date":"2017-03-16","series":"Dealers","value":19},{"date":"2017-03-25","series":"Dealers","value":4},{"date":"2017-04-04","series":"Dealers","value":-4},{"date":"2017-04-16","series":"Dealers","value":4},{"date":"2017-04-25","series":"Dealers","value":39},{"date":"2017-05-04","series":"Dealers","value":59},{"date":"2017-05-13","series":"Dealers","value":49},{"date":"2017-05-22","series":"Dealers","value":44},{"date":"2017-06-01","series":"Dealers","value":39},{"date":"2017-06-13","series":"Dealers","value":59},{"date":"2017-06-22","series":"Dealers","value":84},{"date":"2017-07-01","series":"Dealers","value":108},
      {"date":"2011-07-05","series":"Asset Managers","value":21},{"date":"2011-07-28","series":"Asset Managers","value":24},{"date":"2011-08-16","series":"Asset Managers","value":29},{"date":"2011-09-06","series":"Asset Managers","value":31},{"date":"2011-09-25","series":"Asset Managers","value":39},{"date":"2011-10-04","series":"Asset Managers","value":41},{"date":"2011-10-23","series":"Asset Managers","value":44},{"date":"2011-11-13","series":"Asset Managers","value":44},{"date":"2011-12-01","series":"Asset Managers","value":49},{"date":"2011-12-20","series":"Asset Managers","value":54},{"date":"2012-01-10","series":"Asset Managers","value":54},{"date":"2012-01-28","series":"Asset Managers","value":57},{"date":"2012-02-18","series":"Asset Managers","value":54},{"date":"2012-03-07","series":"Asset Managers","value":54},{"date":"2012-03-25","series":"Asset Managers","value":54},{"date":"2012-04-15","series":"Asset Managers","value":57},{"date":"2012-05-04","series":"Asset Managers","value":54},{"date":"2012-05-22","series":"Asset Managers","value":52},{"date":"2012-06-13","series":"Asset Managers","value":52},{"date":"2012-07-01","series":"Asset Managers","value":52},{"date":"2012-07-19","series":"Asset Managers","value":54},{"date":"2012-08-10","series":"Asset Managers","value":52},{"date":"2012-08-28","series":"Asset Managers","value":54},{"date":"2012-09-16","series":"Asset Managers","value":52},{"date":"2012-10-07","series":"Asset Managers","value":49},{"date":"2012-10-25","series":"Asset Managers","value":47},{"date":"2012-11-13","series":"Asset Managers","value":44},{"date":"2012-12-04","series":"Asset Managers","value":44},{"date":"2012-12-22","series":"Asset Managers","value":44},{"date":"2013-01-11","series":"Asset Managers","value":44},{"date":"2013-01-16","series":"Asset Managers","value":31},{"date":"2013-01-25","series":"Asset Managers","value":21},{"date":"2013-02-10","series":"Asset Managers","value":14},{"date":"2013-02-28","series":"Asset Managers","value":9},{"date":"2013-03-19","series":"Asset Managers","value":6},{"date":"2013-04-07","series":"Asset Managers","value":5},{"date":"2013-04-25","series":"Asset Managers","value":3},{"date":"2013-05-10","series":"Asset Managers","value":1},{"date":"2013-05-25","series":"Asset Managers","value":4},{"date":"2013-06-07","series":"Asset Managers","value":3},{"date":"2013-06-22","series":"Asset Managers","value":6},{"date":"2013-07-13","series":"Asset Managers","value":9},{"date":"2013-08-01","series":"Asset Managers","value":11},{"date":"2013-08-19","series":"Asset Managers","value":14},{"date":"2013-09-10","series":"Asset Managers","value":15},{"date":"2013-09-28","series":"Asset Managers","value":11},{"date":"2013-10-17","series":"Asset Managers","value":6},{"date":"2013-11-07","series":"Asset Managers","value":4},{"date":"2013-11-25","series":"Asset Managers","value":5},{"date":"2013-12-16","series":"Asset Managers","value":4},{"date":"2014-01-04","series":"Asset Managers","value":6},{"date":"2014-01-22","series":"Asset Managers","value":9},{"date":"2014-02-13","series":"Asset Managers","value":8},{"date":"2014-03-01","series":"Asset Managers","value":4},{"date":"2014-03-19","series":"Asset Managers","value":-2},{"date":"2014-04-10","series":"Asset Managers","value":1},{"date":"2014-04-28","series":"Asset Managers","value":6},{"date":"2014-05-16","series":"Asset Managers","value":9},{"date":"2014-06-07","series":"Asset Managers","value":14},{"date":"2014-06-25","series":"Asset Managers","value":16},{"date":"2014-07-13","series":"Asset Managers","value":14},{"date":"2014-08-04","series":"Asset Managers","value":11},{"date":"2014-08-22","series":"Asset Managers","value":9},{"date":"2014-09-01","series":"Asset Managers","value":1},{"date":"2014-09-10","series":"Asset Managers","value":4},{"date":"2014-10-01","series":"Asset Managers","value":-2},{"date":"2014-10-19","series":"Asset Managers","value":-4},{"date":"2014-11-10","series":"Asset Managers","value":-7},{"date":"2014-11-28","series":"Asset Managers","value":-9},{"date":"2014-12-16","series":"Asset Managers","value":-12},{"date":"2015-01-07","series":"Asset Managers","value":-14},{"date":"2015-01-16","series":"Asset Managers","value":-12},{"date":"2015-01-25","series":"Asset Managers","value":1},{"date":"2015-02-04","series":"Asset Managers","value":6},{"date":"2015-02-13","series":"Asset Managers","value":4},{"date":"2015-03-04","series":"Asset Managers","value":1},{"date":"2015-03-22","series":"Asset Managers","value":0},{"date":"2015-04-10","series":"Asset Managers","value":-2},{"date":"2015-04-22","series":"Asset Managers","value":1},{"date":"2015-05-01","series":"Asset Managers","value":-4},{"date":"2015-05-10","series":"Asset Managers","value":-12},{"date":"2015-05-19","series":"Asset Managers","value":-19},{"date":"2015-05-28","series":"Asset Managers","value":-22},{"date":"2015-06-07","series":"Asset Managers","value":-12},{"date":"2015-06-19","series":"Asset Managers","value":-19},{"date":"2015-06-28","series":"Asset Managers","value":-27},{"date":"2015-07-07","series":"Asset Managers","value":-29},{"date":"2015-07-16","series":"Asset Managers","value":-37},{"date":"2015-07-25","series":"Asset Managers","value":-32},{"date":"2015-08-04","series":"Asset Managers","value":-19},{"date":"2015-08-16","series":"Asset Managers","value":-12},{"date":"2015-08-25","series":"Asset Managers","value":-22},{"date":"2015-09-04","series":"Asset Managers","value":-27},{"date":"2015-09-13","series":"Asset Managers","value":-32},{"date":"2015-09-22","series":"Asset Managers","value":-34},{"date":"2015-10-01","series":"Asset Managers","value":-37},{"date":"2015-10-13","series":"Asset Managers","value":-42},{"date":"2015-10-22","series":"Asset Managers","value":-49},{"date":"2015-11-01","series":"Asset Managers","value":-55},{"date":"2015-11-10","series":"Asset Managers","value":-57},{"date":"2015-11-19","series":"Asset Managers","value":-52},{"date":"2015-11-28","series":"Asset Managers","value":-42},{"date":"2015-12-10","series":"Asset Managers","value":-39},{"date":"2015-12-19","series":"Asset Managers","value":-37},{"date":"2015-12-28","series":"Asset Managers","value":-34},{"date":"2016-01-07","series":"Asset Managers","value":-32},{"date":"2016-01-16","series":"Asset Managers","value":-34},{"date":"2016-01-28","series":"Asset Managers","value":-29},{"date":"2016-02-07","series":"Asset Managers","value":-27},{"date":"2016-02-16","series":"Asset Managers","value":-22},{"date":"2016-02-25","series":"Asset Managers","value":-19},{"date":"2016-03-04","series":"Asset Managers","value":-14},{"date":"2016-03-13","series":"Asset Managers","value":-12},{"date":"2016-03-25","series":"Asset Managers","value":-7},{"date":"2016-04-04","series":"Asset Managers","value":-7},{"date":"2016-04-13","series":"Asset Managers","value":-12},{"date":"2016-04-22","series":"Asset Managers","value":-12},{"date":"2016-05-01","series":"Asset Managers","value":-14},{"date":"2016-05-10","series":"Asset Managers","value":-17},{"date":"2016-05-22","series":"Asset Managers","value":-14},{"date":"2016-06-01","series":"Asset Managers","value":-12},{"date":"2016-06-10","series":"Asset Managers","value":-12},{"date":"2016-06-19","series":"Asset Managers","value":-14},{"date":"2016-06-28","series":"Asset Managers","value":-17},{"date":"2016-07-10","series":"Asset Managers","value":-14},{"date":"2016-07-19","series":"Asset Managers","value":-12},{"date":"2016-07-28","series":"Asset Managers","value":-9},{"date":"2016-08-07","series":"Asset Managers","value":-7},{"date":"2016-08-16","series":"Asset Managers","value":-7},{"date":"2016-08-25","series":"Asset Managers","value":-9},{"date":"2016-09-07","series":"Asset Managers","value":-7},{"date":"2016-09-16","series":"Asset Managers","value":-12},{"date":"2016-09-25","series":"Asset Managers","value":-9},{"date":"2016-10-04","series":"Asset Managers","value":-7},{"date":"2016-10-13","series":"Asset Managers","value":-4},{"date":"2016-10-22","series":"Asset Managers","value":-7},{"date":"2016-11-04","series":"Asset Managers","value":-12},{"date":"2016-11-13","series":"Asset Managers","value":-22},{"date":"2016-11-22","series":"Asset Managers","value":-27},{"date":"2016-12-01","series":"Asset Managers","value":-29},{"date":"2016-12-10","series":"Asset Managers","value":-32},{"date":"2016-12-19","series":"Asset Managers","value":-34},{"date":"2017-01-01","series":"Asset Managers","value":-29},{"date":"2017-01-10","series":"Asset Managers","value":-24},{"date":"2017-01-19","series":"Asset Managers","value":-22},{"date":"2017-01-28","series":"Asset Managers","value":-29},{"date":"2017-02-07","series":"Asset Managers","value":-34},{"date":"2017-02-19","series":"Asset Managers","value":-37},{"date":"2017-02-28","series":"Asset Managers","value":-42},{"date":"2017-03-07","series":"Asset Managers","value":-32},{"date":"2017-03-16","series":"Asset Managers","value":-29},{"date":"2017-03-25","series":"Asset Managers","value":-27},{"date":"2017-04-04","series":"Asset Managers","value":-27},{"date":"2017-04-16","series":"Asset Managers","value":-29},{"date":"2017-04-25","series":"Asset Managers","value":-29},{"date":"2017-05-04","series":"Asset Managers","value":-32},{"date":"2017-05-13","series":"Asset Managers","value":-34},{"date":"2017-05-22","series":"Asset Managers","value":-37},{"date":"2017-06-01","series":"Asset Managers","value":-39},{"date":"2017-06-13","series":"Asset Managers","value":-37},{"date":"2017-06-22","series":"Asset Managers","value":-37},{"date":"2017-07-01","series":"Asset Managers","value":-36},
      {"date":"2011-07-05","series":"Leveraged","value":49},{"date":"2011-07-13","series":"Leveraged","value":41},{"date":"2011-07-24","series":"Leveraged","value":39},{"date":"2011-08-07","series":"Leveraged","value":36},{"date":"2011-08-16","series":"Leveraged","value":39},{"date":"2011-08-26","series":"Leveraged","value":31},{"date":"2011-09-06","series":"Leveraged","value":36},{"date":"2011-09-16","series":"Leveraged","value":46},{"date":"2011-09-25","series":"Leveraged","value":44},{"date":"2011-10-04","series":"Leveraged","value":51},{"date":"2011-10-13","series":"Leveraged","value":44},{"date":"2011-10-23","series":"Leveraged","value":49},{"date":"2011-11-03","series":"Leveraged","value":39},{"date":"2011-11-13","series":"Leveraged","value":49},{"date":"2011-11-22","series":"Leveraged","value":52},{"date":"2011-12-01","series":"Leveraged","value":29},{"date":"2011-12-10","series":"Leveraged","value":21},{"date":"2011-12-20","series":"Leveraged","value":24},{"date":"2011-12-30","series":"Leveraged","value":16},{"date":"2012-01-10","series":"Leveraged","value":21},{"date":"2012-01-19","series":"Leveraged","value":14},{"date":"2012-01-28","series":"Leveraged","value":11},{"date":"2012-02-07","series":"Leveraged","value":1},{"date":"2012-02-18","series":"Leveraged","value":-12},{"date":"2012-02-28","series":"Leveraged","value":-27},{"date":"2012-03-07","series":"Leveraged","value":-49},{"date":"2012-03-16","series":"Leveraged","value":-62},{"date":"2012-03-25","series":"Leveraged","value":-57},{"date":"2012-04-04","series":"Leveraged","value":-49},{"date":"2012-04-15","series":"Leveraged","value":-37},{"date":"2012-04-24","series":"Leveraged","value":-29},{"date":"2012-05-04","series":"Leveraged","value":-27},{"date":"2012-05-13","series":"Leveraged","value":-14},{"date":"2012-05-22","series":"Leveraged","value":-9},{"date":"2012-06-02","series":"Leveraged","value":1},{"date":"2012-06-13","series":"Leveraged","value":6},{"date":"2012-06-22","series":"Leveraged","value":14},{"date":"2012-07-01","series":"Leveraged","value":19},{"date":"2012-07-10","series":"Leveraged","value":21},{"date":"2012-07-19","series":"Leveraged","value":19},{"date":"2012-07-29","series":"Leveraged","value":24},{"date":"2012-08-10","series":"Leveraged","value":16},{"date":"2012-08-19","series":"Leveraged","value":19},{"date":"2012-08-28","series":"Leveraged","value":24},{"date":"2012-09-07","series":"Leveraged","value":16},{"date":"2012-09-16","series":"Leveraged","value":21},{"date":"2012-09-27","series":"Leveraged","value":11},{"date":"2012-10-07","series":"Leveraged","value":9},{"date":"2012-10-16","series":"Leveraged","value":-7},{"date":"2012-10-25","series":"Leveraged","value":-17},{"date":"2012-11-04","series":"Leveraged","value":-27},{"date":"2012-11-13","series":"Leveraged","value":-42},{"date":"2012-11-24","series":"Leveraged","value":-72},{"date":"2012-12-04","series":"Leveraged","value":-82},{"date":"2012-12-13","series":"Leveraged","value":-80},{"date":"2012-12-22","series":"Leveraged","value":-75},{"date":"2013-01-01","series":"Leveraged","value":-80},{"date":"2013-01-11","series":"Leveraged","value":-77},{"date":"2013-01-22","series":"Leveraged","value":-82},{"date":"2013-02-01","series":"Leveraged","value":-90},{"date":"2013-02-10","series":"Leveraged","value":-85},{"date":"2013-02-19","series":"Leveraged","value":-92},{"date":"2013-02-28","series":"Leveraged","value":-110},{"date":"2013-03-10","series":"Leveraged","value":-87},{"date":"2013-03-19","series":"Leveraged","value":-80},{"date":"2013-03-28","series":"Leveraged","value":-82},{"date":"2013-04-07","series":"Leveraged","value":-65},{"date":"2013-04-16","series":"Leveraged","value":-57},{"date":"2013-04-25","series":"Leveraged","value":-47},{"date":"2013-05-07","series":"Leveraged","value":-42},{"date":"2013-05-16","series":"Leveraged","value":-49},{"date":"2013-05-25","series":"Leveraged","value":-59},{"date":"2013-06-04","series":"Leveraged","value":-64},{"date":"2013-06-13","series":"Leveraged","value":-52},{"date":"2013-06-23","series":"Leveraged","value":-54},{"date":"2013-07-04","series":"Leveraged","value":-47},{"date":"2013-07-13","series":"Leveraged","value":-47},{"date":"2013-07-22","series":"Leveraged","value":-57},{"date":"2013-08-01","series":"Leveraged","value":-65},{"date":"2013-08-10","series":"Leveraged","value":-67},{"date":"2013-08-19","series":"Leveraged","value":-62},{"date":"2013-09-01","series":"Leveraged","value":-55},{"date":"2013-09-10","series":"Leveraged","value":-62},{"date":"2013-09-19","series":"Leveraged","value":-47},{"date":"2013-09-28","series":"Leveraged","value":-37},{"date":"2013-10-07","series":"Leveraged","value":-34},{"date":"2013-10-17","series":"Leveraged","value":-47},{"date":"2013-10-28","series":"Leveraged","value":-52},{"date":"2013-11-07","series":"Leveraged","value":-72},{"date":"2013-11-16","series":"Leveraged","value":-87},{"date":"2013-11-25","series":"Leveraged","value":-105},{"date":"2013-12-04","series":"Leveraged","value":-92},{"date":"2013-12-16","series":"Leveraged","value":-80},{"date":"2013-12-25","series":"Leveraged","value":-72},{"date":"2014-01-04","series":"Leveraged","value":-57},{"date":"2014-01-13","series":"Leveraged","value":-47},{"date":"2014-01-22","series":"Leveraged","value":-39},{"date":"2014-02-02","series":"Leveraged","value":-44},{"date":"2014-02-13","series":"Leveraged","value":-42},{"date":"2014-02-22","series":"Leveraged","value":-52},{"date":"2014-03-01","series":"Leveraged","value":-44},{"date":"2014-03-10","series":"Leveraged","value":-52},{"date":"2014-03-19","series":"Leveraged","value":-47},{"date":"2014-04-01","series":"Leveraged","value":-60},{"date":"2014-04-10","series":"Leveraged","value":-72},{"date":"2014-04-19","series":"Leveraged","value":-62},{"date":"2014-04-28","series":"Leveraged","value":-57},{"date":"2014-05-07","series":"Leveraged","value":-44},{"date":"2014-05-16","series":"Leveraged","value":-52},{"date":"2014-05-28","series":"Leveraged","value":-65},{"date":"2014-06-07","series":"Leveraged","value":-72},{"date":"2014-06-16","series":"Leveraged","value":-77},{"date":"2014-06-25","series":"Leveraged","value":-87},{"date":"2014-07-04","series":"Leveraged","value":-77},{"date":"2014-07-13","series":"Leveraged","value":-72},{"date":"2014-07-25","series":"Leveraged","value":-77},{"date":"2014-08-04","series":"Leveraged","value":-92},{"date":"2014-08-13","series":"Leveraged","value":-82},{"date":"2014-08-22","series":"Leveraged","value":-105},{"date":"2014-09-01","series":"Leveraged","value":-92},{"date":"2014-09-10","series":"Leveraged","value":-82},{"date":"2014-09-22","series":"Leveraged","value":-69},{"date":"2014-10-01","series":"Leveraged","value":-52},{"date":"2014-10-10","series":"Leveraged","value":-47},{"date":"2014-10-19","series":"Leveraged","value":-57},{"date":"2014-10-28","series":"Leveraged","value":-52},{"date":"2014-11-10","series":"Leveraged","value":-72},{"date":"2014-11-19","series":"Leveraged","value":-82},{"date":"2014-11-28","series":"Leveraged","value":-65},{"date":"2014-12-07","series":"Leveraged","value":-52},{"date":"2014-12-16","series":"Leveraged","value":-47},{"date":"2014-12-25","series":"Leveraged","value":-49},{"date":"2015-01-07","series":"Leveraged","value":-52},{"date":"2015-01-16","series":"Leveraged","value":-55},{"date":"2015-01-25","series":"Leveraged","value":-65},{"date":"2015-02-04","series":"Leveraged","value":-47},{"date":"2015-02-13","series":"Leveraged","value":-44},{"date":"2015-02-22","series":"Leveraged","value":-47},{"date":"2015-03-04","series":"Leveraged","value":-39},{"date":"2015-03-13","series":"Leveraged","value":-42},{"date":"2015-03-22","series":"Leveraged","value":-34},{"date":"2015-04-01","series":"Leveraged","value":-32},{"date":"2015-04-10","series":"Leveraged","value":-27},{"date":"2015-04-16","series":"Leveraged","value":-32},{"date":"2015-04-22","series":"Leveraged","value":-52},{"date":"2015-05-01","series":"Leveraged","value":-72},{"date":"2015-05-10","series":"Leveraged","value":-92},{"date":"2015-05-19","series":"Leveraged","value":-113},{"date":"2015-05-28","series":"Leveraged","value":-92},{"date":"2015-06-07","series":"Leveraged","value":-97},{"date":"2015-06-19","series":"Leveraged","value":-107},{"date":"2015-06-28","series":"Leveraged","value":-72},{"date":"2015-07-07","series":"Leveraged","value":-92},{"date":"2015-07-16","series":"Leveraged","value":-102},{"date":"2015-07-25","series":"Leveraged","value":-77},{"date":"2015-08-04","series":"Leveraged","value":-72},{"date":"2015-08-16","series":"Leveraged","value":-42},{"date":"2015-08-25","series":"Leveraged","value":-27},{"date":"2015-09-04","series":"Leveraged","value":-37},{"date":"2015-09-13","series":"Leveraged","value":-32},{"date":"2015-09-22","series":"Leveraged","value":-37},{"date":"2015-10-01","series":"Leveraged","value":-32},{"date":"2015-10-13","series":"Leveraged","value":-42},{"date":"2015-10-22","series":"Leveraged","value":-62},{"date":"2015-11-01","series":"Leveraged","value":-82},{"date":"2015-11-10","series":"Leveraged","value":-82},{"date":"2015-11-19","series":"Leveraged","value":-82},{"date":"2015-11-28","series":"Leveraged","value":-57},{"date":"2015-12-10","series":"Leveraged","value":-32},{"date":"2015-12-19","series":"Leveraged","value":-2},{"date":"2015-12-28","series":"Leveraged","value":9},{"date":"2016-01-07","series":"Leveraged","value":16},{"date":"2016-01-16","series":"Leveraged","value":11},{"date":"2016-01-28","series":"Leveraged","value":24},{"date":"2016-02-07","series":"Leveraged","value":34},{"date":"2016-02-16","series":"Leveraged","value":39},{"date":"2016-02-25","series":"Leveraged","value":44},{"date":"2016-03-04","series":"Leveraged","value":41},{"date":"2016-03-13","series":"Leveraged","value":47},{"date":"2016-03-25","series":"Leveraged","value":44},{"date":"2016-04-04","series":"Leveraged","value":36},{"date":"2016-04-13","series":"Leveraged","value":34},{"date":"2016-04-22","series":"Leveraged","value":26},{"date":"2016-05-01","series":"Leveraged","value":24},{"date":"2016-05-10","series":"Leveraged","value":31},{"date":"2016-05-22","series":"Leveraged","value":41},{"date":"2016-06-01","series":"Leveraged","value":49},{"date":"2016-06-10","series":"Leveraged","value":54},{"date":"2016-06-19","series":"Leveraged","value":49},{"date":"2016-06-28","series":"Leveraged","value":52},{"date":"2016-07-10","series":"Leveraged","value":46},{"date":"2016-07-19","series":"Leveraged","value":36},{"date":"2016-07-28","series":"Leveraged","value":44},{"date":"2016-08-07","series":"Leveraged","value":49},{"date":"2016-08-16","series":"Leveraged","value":54},{"date":"2016-08-25","series":"Leveraged","value":52},{"date":"2016-09-07","series":"Leveraged","value":57},{"date":"2016-09-16","series":"Leveraged","value":59},{"date":"2016-09-25","series":"Leveraged","value":49},{"date":"2016-10-04","series":"Leveraged","value":29},{"date":"2016-10-13","series":"Leveraged","value":26},{"date":"2016-10-22","series":"Leveraged","value":21},{"date":"2016-11-04","series":"Leveraged","value":9},{"date":"2016-11-13","series":"Leveraged","value":-12},{"date":"2016-11-22","series":"Leveraged","value":-32},{"date":"2016-12-01","series":"Leveraged","value":-47},{"date":"2016-12-10","series":"Leveraged","value":-62},{"date":"2016-12-19","series":"Leveraged","value":-72},{"date":"2017-01-01","series":"Leveraged","value":-62},{"date":"2017-01-10","series":"Leveraged","value":-47},{"date":"2017-01-19","series":"Leveraged","value":-37},{"date":"2017-01-28","series":"Leveraged","value":-27},{"date":"2017-02-07","series":"Leveraged","value":-32},{"date":"2017-02-19","series":"Leveraged","value":-39},{"date":"2017-02-28","series":"Leveraged","value":-27},{"date":"2017-03-07","series":"Leveraged","value":-22},{"date":"2017-03-16","series":"Leveraged","value":-27},{"date":"2017-03-25","series":"Leveraged","value":-17},{"date":"2017-04-04","series":"Leveraged","value":9},{"date":"2017-04-16","series":"Leveraged","value":21},{"date":"2017-04-25","series":"Leveraged","value":9},{"date":"2017-05-04","series":"Leveraged","value":-17},{"date":"2017-05-13","series":"Leveraged","value":-24},{"date":"2017-05-22","series":"Leveraged","value":-22},{"date":"2017-06-01","series":"Leveraged","value":-12},{"date":"2017-06-13","series":"Leveraged","value":-22},{"date":"2017-06-22","series":"Leveraged","value":-42},{"date":"2017-07-01","series":"Leveraged","value":-83}
    ]
  },
  "hconcat": [
    {
      "width": 356,
      "height": 219,
      "title": {"text": "Figure 55: JPY futures spec net positions", "dx": -77, "offset": -28.5},
      "layer": [
        {
          "data": {"values": [{}]},
          "layer": [
            {
              "mark": {"type": "rule"},
              "encoding": {
                "x": {"datum": {"year": 2010, "month": 2, "date": 21, "utc": true}, "type": "temporal"},
                "x2": {"datum": {"year": 2018, "month": 1, "date": 15, "utc": true}},
                "y": {"datum": 167.5, "type": "quantitative", "scale": {"domain": [-200, 100], "range": [219, 10]}, "axis": null}
              }
            },
            {
              "mark": {"type": "rule"},
              "encoding": {
                "x": {"datum": {"year": 2010, "month": 2, "date": 21, "utc": true}, "type": "temporal"},
                "y": {"datum": 167.5, "type": "quantitative", "scale": {"domain": [-200, 100], "range": [219, 10]}, "axis": null},
                "y2": {"datum": 128.7}
              }
            }
          ]
        },
        {
          "data": {"name": "jpy"},
          "transform": [{"filter": "datum.series === 'Net Position'"}],
          "mark": {"type": "line", "strokeWidth": 1.3},
          "encoding": {
            "x": {"field": "date", "type": "temporal",
              "scale": {"type": "utc", "domain": [{"year": 2011, "month": 7, "date": 1, "utc": true}, {"year": 2017, "month": 7, "date": 13, "utc": true}]},
              "axis": {"values": [{"year": 2011, "month": 7, "date": 1, "utc": true}, {"year": 2012, "month": 7, "date": 1, "utc": true}, {"year": 2013, "month": 7, "date": 1, "utc": true}, {"year": 2014, "month": 7, "date": 1, "utc": true}, {"year": 2015, "month": 7, "date": 1, "utc": true}, {"year": 2016, "month": 7, "date": 1, "utc": true}, {"year": 2017, "month": 7, "date": 1, "utc": true}],
                "format": "%b-%y", "domain": false, "ticks": false, "grid": false, "labelPadding": 10, "labelFlush": false, "labelOverlap": false,
                "title": "Source: CFTC and Deutsche Bank", "titleFont": "Liberation Sans", "titleFontStyle": "italic", "titleFontWeight": "normal", "titleFontSize": 9.5, "titleColor": "#333333",
                "titleAnchor": "start", "titleAlign": "left", "titleX": -80, "titleY": 35, "titleBaseline": "alphabetic"}},
            "y": {"field": "value", "type": "quantitative", "scale": {"domain": [-200, 100], "range": [219, 10]},
              "axis": {"orient": "left", "values": [-200, -150, -100, -50, 0, 50, 100], "labelExpr": "datum.label + 'K'", "labelOverlap": false, "tickSize": 4, "labelPadding": 5,
                "grid": true, "gridColor": {"condition": {"test": "datum.value === 0", "value": "#8a8a8a"}, "value": "transparent"}, "gridWidth": 1,
                "title": "Net Position (contracts)", "titleFontWeight": "bold", "titleFontSize": 12, "titlePadding": 4, "titleY": 107}},
            "color": {"field": "series", "type": "nominal",
              "scale": {"domain": ["Net Position", "1 Week Ago", "4 Weeks Ago", "USDJPY"], "range": ["#4f81bd", "transparent", "transparent", "#9bbb59"]},
              "legend": {"orient": "none", "legendX": 85, "legendY": -4.5, "title": null, "padding": 0, "clipHeight": 15, "rowPadding": 0,
                "symbolType": "stroke", "symbolSize": 324, "labelOffset": 2, "labelFont": "Lato", "labelFontWeight": "bold", "labelFontSize": 11, "labelColor": "#000000",
                "labelExpr": "datum.label === 'Net Position' ? 'Net Position: -127K' : datum.label === '1 Week Ago' ? '1 Week Ago :-112K' : datum.label === '4 Weeks Ago' ? '4 Weeks Ago: -50K' : 'USDJPY: 112.28'",
                "encode": {"symbols": {"update": {"strokeWidth": {"signal": "datum.value === 'USDJPY' ? 2.5 : 1.3"}}}}}}
          }
        },
        {
          "data": {"name": "jpy"},
          "transform": [{"filter": "datum.series === 'USDJPY'"}],
          "mark": {"type": "line", "strokeWidth": 2.2},
          "encoding": {
            "x": {"field": "date", "type": "temporal",
              "scale": {"type": "utc", "domain": [{"year": 2011, "month": 7, "date": 1, "utc": true}, {"year": 2017, "month": 7, "date": 13, "utc": true}]}},
            "y": {"field": "value", "type": "quantitative", "scale": {"domain": [70, 130], "range": [219, 10]},
              "axis": {"orient": "right", "values": [70, 80, 90, 100, 110, 120, 130], "labelOverlap": false, "tickSize": 4, "labelPadding": 4, "title": null}},
            "color": {"field": "series", "type": "nominal",
              "scale": {"domain": ["Net Position", "1 Week Ago", "4 Weeks Ago", "USDJPY"], "range": ["#4f81bd", "transparent", "transparent", "#9bbb59"]}}
          }
        }
      ],
      "resolve": {"scale": {"y": "independent"}}
    },
    {
      "width": 380,
      "height": 231,
      "title": {"text": "Figure 56: JPY futures by trader type", "dx": -64, "offset": -28.5},
      "layer": [
        {
          "data": {"values": [{}]},
          "layer": [
            {
              "mark": {"type": "rule"},
              "encoding": {
                "x": {"datum": {"year": 2010, "month": 6, "date": 8, "utc": true}, "type": "temporal"},
                "x2": {"datum": {"year": 2017, "month": 10, "date": 26, "utc": true}},
                "y": {"datum": 256, "type": "quantitative", "scale": {"domain": [-150, 200]}, "axis": null}
              }
            },
            {
              "mark": {"type": "rule"},
              "encoding": {
                "x": {"datum": {"year": 2010, "month": 6, "date": 8, "utc": true}, "type": "temporal"},
                "y": {"datum": 256, "type": "quantitative", "scale": {"domain": [-150, 200]}, "axis": null},
                "y2": {"datum": 215}
              }
            }
          ]
        },
        {
          "data": {"name": "traders"},
          "mark": {"type": "line"},
          "encoding": {
            "x": {"field": "date", "type": "temporal",
              "scale": {"type": "utc", "domain": [{"year": 2011, "month": 7, "date": 1, "utc": true}, {"year": 2017, "month": 7, "date": 8, "utc": true}]},
              "axis": {"values": [{"year": 2011, "month": 7, "date": 1, "utc": true}, {"year": 2012, "month": 7, "date": 1, "utc": true}, {"year": 2013, "month": 7, "date": 1, "utc": true}, {"year": 2014, "month": 7, "date": 1, "utc": true}, {"year": 2015, "month": 7, "date": 1, "utc": true}, {"year": 2016, "month": 7, "date": 1, "utc": true}, {"year": 2017, "month": 7, "date": 1, "utc": true}],
                "format": "%b-%y", "domain": false, "ticks": false, "grid": false, "labelPadding": 11, "labelFlush": false, "labelOverlap": false,
                "title": "Source: CFTC and Deutsche Bank", "titleFont": "Liberation Sans", "titleFontStyle": "italic", "titleFontWeight": "normal", "titleFontSize": 9.5, "titleColor": "#333333",
                "titleAnchor": "start", "titleAlign": "left", "titleX": -67, "titleY": 42, "titleBaseline": "alphabetic"}},
            "y": {"field": "value", "type": "quantitative", "scale": {"domain": [-150, 200]},
              "axis": {"orient": "left", "values": [-150, -100, -50, 0, 50, 100, 150, 200], "labelExpr": "datum.label + 'K'", "labelOverlap": false, "tickSize": 4, "labelPadding": 5,
                "grid": true, "gridColor": {"condition": {"test": "datum.value === 0", "value": "#8a8a8a"}, "value": "transparent"}, "gridWidth": 1,
                "title": "Net Position (contracts)", "titleFontWeight": "bold", "titleFontSize": 12, "titlePadding": 4, "titleY": 135}},
            "color": {"field": "series", "type": "nominal",
              "scale": {"domain": ["Dealers", "Asset Managers", "Leveraged"], "range": ["#4a7ebb", "#4f6228", "#f5a03a"]},
              "legend": {"orient": "none", "legendX": 24, "legendY": -1, "title": null, "padding": 0, "clipHeight": 18.5, "rowPadding": 0,
                "symbolType": "stroke", "symbolSize": 529, "labelOffset": 3, "labelFont": "Lato", "labelFontWeight": "bold", "labelFontSize": 11, "labelColor": "#000000",
                "labelExpr": "datum.label === 'Dealers' ? 'Dealers: 108K' : datum.label === 'Asset Managers' ? 'Asset Managers: -36K' : 'Leveraged: -83K'",
                "encode": {"symbols": {"update": {"strokeWidth": {"signal": "datum.value === 'Dealers' ? 3.5 : datum.value === 'Asset Managers' ? 3 : 1.2"}}}}}},
            "strokeDash": {"field": "series", "type": "nominal",
              "scale": {"domain": ["Dealers", "Asset Managers", "Leveraged"], "range": [[1, 0], [6, 3], [1, 0]]}},
            "strokeWidth": {"condition": [{"test": "datum.series === 'Dealers'", "value": 3}, {"test": "datum.series === 'Asset Managers'", "value": 2.6}], "value": 1.1}
          }
        }
      ],
      "resolve": {"scale": {"y": "independent"}}
    }
  ]
}
